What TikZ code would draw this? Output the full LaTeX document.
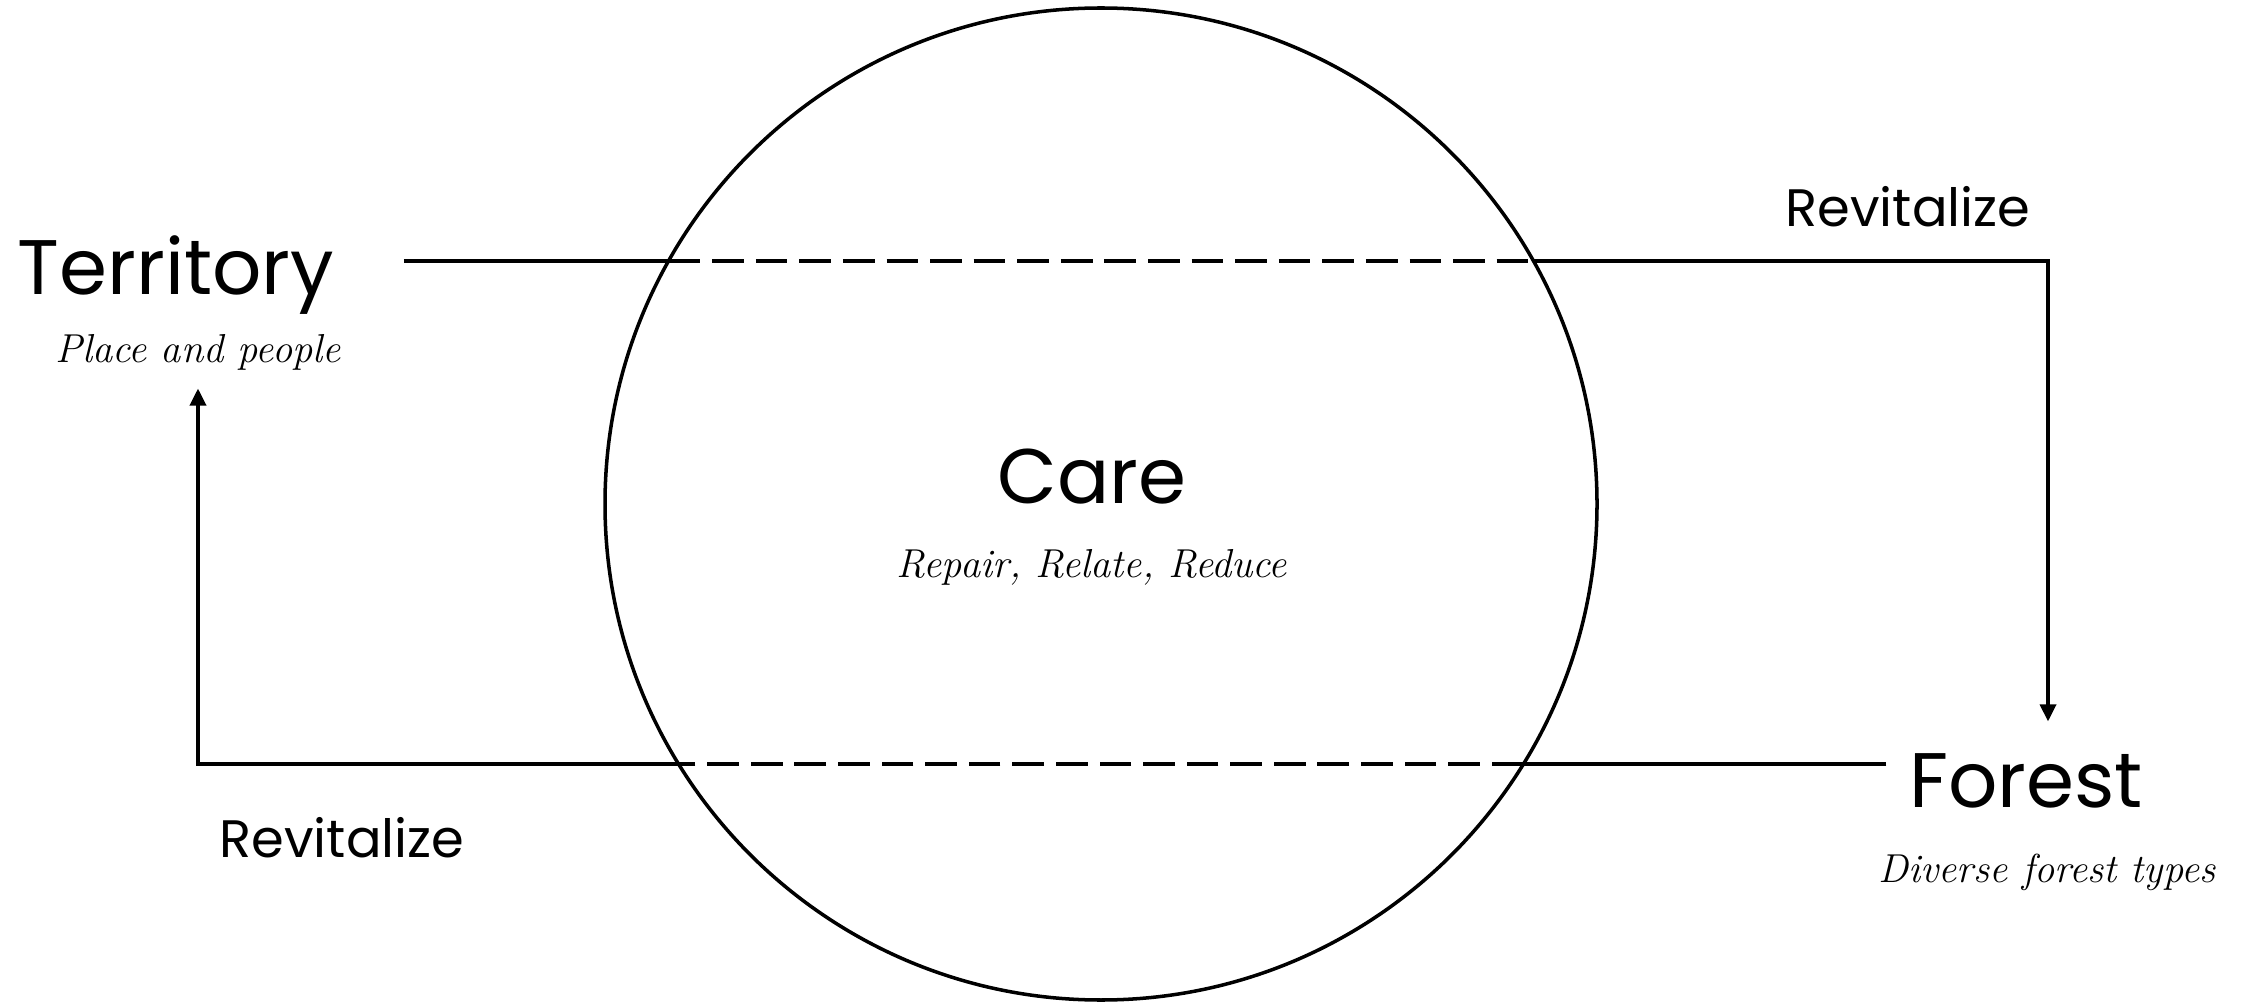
\documentclass[tikz,border=0pt]{standalone}
\usepackage{fontspec}
\setsansfont{Poppins}
\usetikzlibrary{arrows.meta,positioning}

\begin{document}
\begin{tikzpicture}[
    title/.style={
        font=\sffamily\fontsize{22}{26}\selectfont,
        anchor=base,
        inner sep=0pt
    },
    note/.style={
        font=\itshape\fontsize{11.5}{13}\selectfont,
        anchor=base,
        inner sep=0pt
    },
    verb/.style={
        font=\sffamily\fontsize{15}{18}\selectfont,
        anchor=base,
        inner sep=0pt
    },
    link/.style={line width=1pt},
    dashlink/.style={link, dash pattern=on 9pt off 3.4pt},
    >={Triangle[width=1.6mm,length=1.7mm]}
]
\useasboundingbox (0,0) rectangle (22.49,10.04);

% the circle and its labels
\node[circle, draw, line width=1pt, minimum size=9.92cm, inner sep=0pt] (care) at (11.01,5.00) {};
\node[title] (carelabel) at (10.92,5.01) {Care};
\node[note] (carenote) at (10.92,4.27) {Repair, Relate, Reduce};

% where the lines cross the circle
\path (care.center) ++(150.66:4.96) coordinate (crossTL);
\path (care.center) ++(29.34:4.96) coordinate (crossTR);
\path (care.center) ++(-31.61:4.96) coordinate (crossBR);
\path (care.center) ++(211.61:4.96) coordinate (crossBL);

% the two ends
\node[title] (terr) at (1.76,7.09) {Territory};
\node[note] (terrnote) at (1.98,6.41) {Place and people};
\node[title] (forest) at (20.26,1.97) {Forest};
\node[note] (forestnote) at (20.47,1.22) {Diverse forest types};

\node[verb] (revtop) at (19.08,7.77) {Revitalize};
\node[verb] (revbot) at (3.42,1.47) {Revitalize};

% territory to forest
\draw[link] ([xshift=6.9mm]terr.east |- crossTL) -- (crossTL);
\draw[dashlink] (crossTL) -- (crossTR);
\draw[link,->] (crossTR) -| ([xshift=2.2mm,yshift=3.1mm]forest.north);

% forest back to territory
\draw[link] ([xshift=-2.2mm]forest.west |- crossBR) -- (crossBR);
\draw[dashlink] (crossBR) -- (crossBL);
\draw[link,->] (crossBL) -| ([yshift=-1.7mm]terrnote.south);
\end{tikzpicture}
\end{document}
